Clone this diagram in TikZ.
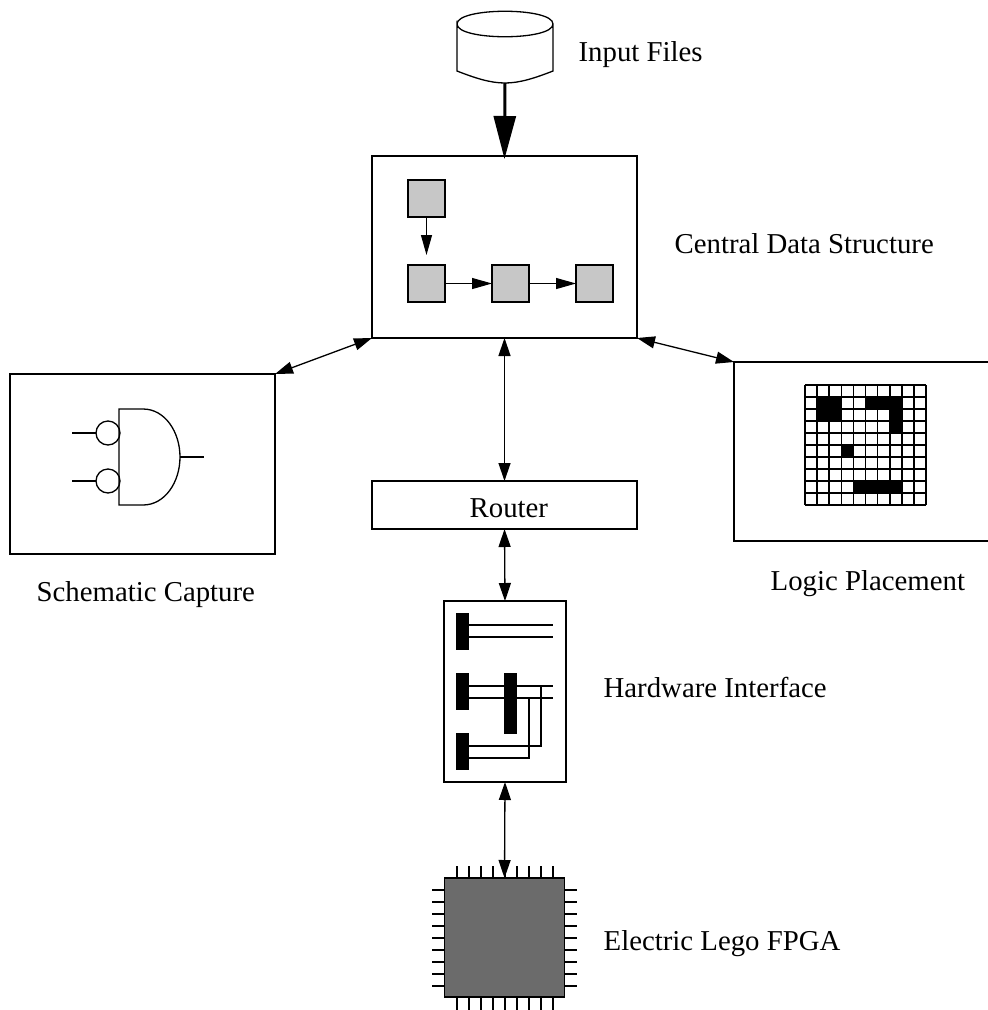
\documentclass[tikz,border=0pt]{standalone}
\usepackage{fontspec}
\setmainfont{Liberation Serif}
\usepackage{tikz}
\usetikzlibrary{shapes.geometric,arrows.meta,positioning,calc}
\definecolor{grisClair}{gray}{0.78}
\definecolor{grisFonce}{gray}{0.42}

\begin{document}
\begin{tikzpicture}[x=1pt,y=-1pt,font=\fontsize{28.8}{32}\selectfont,line width=1.3pt,
  bloc/.style={rectangle,draw=black,inner sep=0pt,outer sep=0pt},
  carre/.style={bloc,fill=grisClair,minimum width=37pt,minimum height=37pt},
  barre/.style={rectangle,fill=black,inner sep=0pt,outer sep=0pt,minimum width=13pt},
  bulle/.style={circle,draw=black,inner sep=0pt,outer sep=0pt,minimum size=24pt},
  legende/.style={anchor=base west,inner sep=0pt},
  lien/.style={{Triangle[length=18pt,width=12pt]}-{Triangle[length=18pt,width=12pt]},line width=1.3pt},
  fleche/.style={-{Triangle[length=20pt,width=11pt]},line width=1.2pt}]
  \useasboundingbox (0,0) rectangle (988,1010);

  % disk and input arrow
  \node[rectangle,inner sep=0pt,outer sep=0pt,minimum width=96pt,minimum height=71pt] (Disk) at (505,47.5) {};
  \draw (Disk.north west |- 0,24) .. controls (457,7) and (553,7) .. (553,24)
     .. controls (553,41) and (457,41) .. (457,24) -- (457,71)
     .. controls (475,78) and (490,83) .. (505,83)
     .. controls (520,83) and (535,78) .. (553,71) -- (553,24);
  \node[legende] (LDisk) at (578,61) {Input Files};

  % central block
  \node[bloc,minimum width=265pt,minimum height=182pt] (Central) at (504.5,247) {};
  \node[legende] (LCentral) at (674,253) {Central Data Structure};
  \draw[-{Triangle[length=43pt,width=22pt]},line width=3pt] (Disk.south) -- ($(Central.north)+(0,3)$);
  \node[carre] (S1) at (426.5,198.5) {};
  \node[carre] (S2) at (426.5,283.5) {};
  \node[carre] (S3) at (510.5,283.5) {};
  \node[carre] (S4) at (594.5,283.5) {};
  \draw[fleche,shorten >=10pt] (S1.south) -- (S2.north);
  \draw[fleche] (S2.east) -- (S3.west);
  \draw[fleche] (S3.east) -- (S4.west);

  % schematic capture
  \node[bloc,minimum width=265pt,minimum height=180pt] (Schema) at (142.5,464) {};
  \node[legende] (LSchema) at (36,601) {Schematic Capture};
  \node[bulle] (B1) at (108,433) {};
  \node[bulle] (B2) at (108,481) {};
  \coordinate (E1) at (72,433);
  \coordinate (E2) at (72,481);
  \coordinate (Sortie) at (204,457);
  \draw (E1) -- (B1.west);
  \draw (E2) -- (B2.west);
  \draw (143,409) -- (119,409) -- (119,505) -- (143,505)
     .. controls (165,505) and (180,482) .. (180,457)
     .. controls (180,432) and (165,409) .. (143,409) -- cycle;
  \draw (180,457) -- (Sortie);

  % logic placement, open on the right
  \node[rectangle,inner sep=0pt,outer sep=0pt,minimum width=254pt,minimum height=179pt] (Place) at (861,451.5) {};
  \draw (Place.north east) -- (Place.north west) -- (Place.south west) -- (Place.south east);
  \node[legende] (LPlace) at (770,590) {Logic Placement};
  \foreach \cx/\cy in {1/1,2/1,1/2,2/2,5/1,6/1,7/1,7/2,7/3,3/5,4/8,5/8,6/8,7/8}
    \fill (805+\cx*12.1,385+\cy*12) rectangle ++(12.1,12);
  \foreach \i in {0,...,10}{
    \draw[line width=1.6pt] (805+\i*12.1,385) -- (805+\i*12.1,505);
    \draw[line width=1.6pt] (805,385+\i*12) -- (926,385+\i*12);
  }

  % router
  \node[bloc,minimum width=265pt,minimum height=48pt] (Router) at (504.5,505) {};
  \node[legende] (LRouter) at (469,517) {Router};

  % hardware interface
  \node[bloc,minimum width=122pt,minimum height=181pt] (Hard) at (505,691.5) {};
  \node[legende] (LHard) at (603,697) {Hardware Interface};
  \node[barre,minimum height=37pt] (P1) at (462.5,631.5) {};
  \node[barre,minimum height=37pt] (P2) at (462.5,691.5) {};
  \node[barre,minimum height=61pt] (P3) at (510.5,703.5) {};
  \node[barre,minimum height=37pt] (P4) at (462.5,751.5) {};
  \coordinate (F1) at (553,625);
  \coordinate (F2) at (553,637);
  \coordinate (F3) at (553,686);
  \coordinate (F4) at (553,698);
  \draw (P1.east |- F1) -- (F1);
  \draw (P1.east |- F2) -- (F2);
  \draw (P2.east |- F3) -- (F3);
  \draw (P2.east |- F4) -- (F4);
  \draw (P4.east |- 0,746) -- (541,746) -- (541,686);
  \draw (P4.east |- 0,758) -- (529,758) -- (529,698);

  % fpga
  \node[bloc,fill=grisFonce,line width=1.8pt,minimum width=120pt,minimum height=119pt] (Fpga) at (504.5,937.5) {};
  \node[legende] (LFpga) at (603,950) {Electric Lego FPGA};
  \foreach \k in {0,...,8}{
    \draw (457+\k*12,866) -- (457+\k*12,878);
    \draw (457+\k*12,997) -- (457+\k*12,1010);
    \draw (432,890+\k*12) -- (444,890+\k*12);
    \draw (564,890+\k*12) -- (577,890+\k*12);
  }

  % links between blocks
  \draw[lien] (Central.south west) -- (Schema.north east);
  \draw[lien] (Central.south east) -- (Place.north west);
  \draw[lien] (Central.south) -- (Router.north);
  \draw[lien] (Router.south) -- (Hard.north);
  \draw[lien] (Hard.south) -- (Fpga.north);
\end{tikzpicture}
\end{document}
